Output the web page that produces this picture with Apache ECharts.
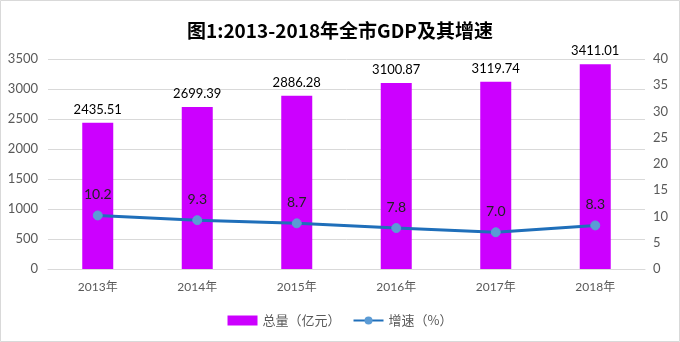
<!DOCTYPE html>
<html><head><meta charset="utf-8">
<script src="https://cdn.jsdelivr.net/npm/echarts@6/dist/echarts.min.js"></script>
<style>html,body{margin:0;padding:0;background:#fff}#c{width:680px;height:342px}</style>
</head><body><div id="c"></div>
<script>
const categories = ['2013年','2014年','2015年','2016年','2017年','2018年'];
const totalGDP = [2435.51, 2699.39, 2886.28, 3100.87, 3119.74, 3411.01];
const growth = [10.2, 9.3, 8.7, 7.8, 7.0, 8.3];
const growthLabels = ['10.2','9.3','8.7','7.8','7.0','8.3'];
const titleText = '图1:2013-2018年全市GDP及其增速';

const chart = echarts.init(document.getElementById('c'));
const numFont = 'Lato, "Noto Sans CJK SC"';
chart.setOption({
  animation: false,
  backgroundColor: '#fff',
  graphic: [{type:'rect', shape:{x:0.5,y:0.5,width:679,height:341}, style:{fill:'none', stroke:'#d9d9d9', lineWidth:1}}],
  title: {text: titleText, left: 'center', top: 16, textStyle:{fontFamily:'"Noto Sans CJK SC"', fontWeight:'bold', fontSize:19, color:'#000'}},
  legend: {bottom: 10, left: 'center', itemGap: 12, itemWidth: 30, itemHeight: 10,
    textStyle:{fontFamily:'"Noto Sans CJK SC"', fontSize:13, color:'#595959'},
    data:[{name:'总量（亿元）', icon:'rect'}, {name:'增速（%）'}]},
  grid: {left: 48, right: 35, top: 59, bottom: 73},
  xAxis: {type:'category', data: categories,
    axisLine:{lineStyle:{color:'#d9d9d9'}}, axisTick:{show:false},
    axisLabel:{color:'#595959', fontSize:12, fontFamily:numFont, margin:12}},
  yAxis: [
    {type:'value', min:0, max:3500, interval:500,
     axisLine:{show:false}, axisTick:{show:false},
     axisLabel:{color:'#595959', fontSize:13, fontFamily:numFont, margin:10, formatter: v => String(v)},
     splitLine:{lineStyle:{color:'#d9d9d9'}}},
    {type:'value', min:0, max:40, interval:5, position:'right',
     axisLine:{show:false}, axisTick:{show:false},
     axisLabel:{color:'#595959', fontSize:13, fontFamily:numFont, margin:8, formatter: v => String(v)},
     splitLine:{show:false}}
  ],
  series: [
    {name:'总量（亿元）', type:'bar', data: totalGDP, barWidth: 31, itemStyle:{color:'#CC00FF'},
     label:{show:true, position:'top', distance:7, color:'#000', fontSize:13, fontFamily:numFont, formatter: p => totalGDP[p.dataIndex].toFixed(2)}},
    {name:'增速（%）', type:'line', yAxisIndex:1, data: growth, symbol:'circle', symbolSize:9,
     lineStyle:{color:'#1F6FBA', width:3}, itemStyle:{color:'#5B9BD5', borderColor:'#5B9BD5'},
     label:{show:true, position:'top', distance:9, color:'#222', fontSize:14, fontFamily:numFont, formatter: p => growthLabels[p.dataIndex]}}
  ]
});
</script></body></html>
